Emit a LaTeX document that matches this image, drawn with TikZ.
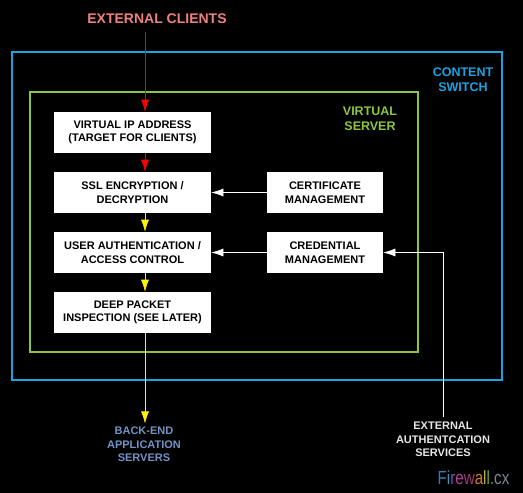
\documentclass[tikz,border=0pt]{standalone}
\usepackage{fontspec}
\setmainfont{Liberation Sans}
\usetikzlibrary{positioning,arrows.meta}
\definecolor{switchblue}{HTML}{1AA3E0}
\definecolor{servergreen}{HTML}{8CC63F}
\definecolor{clientred}{HTML}{F08080}
\definecolor{backblue}{HTML}{7393C6}
\definecolor{authgray}{HTML}{E6E6E6}

\begin{document}
\begin{tikzpicture}[x=1pt, y=-1pt,
    -{Latex[length=12pt,width=8pt]}, node distance = 60pt and 192.5pt, on grid,
    semithick,
    stage/.style ={rectangle, fill=white, text=black, minimum width=157pt,
    minimum height=41pt, inner sep=0pt, align=center,
    font=\fontsize{11}{13.5}\selectfont\bfseries},
    manager/.style={stage, minimum width=116pt},
    tag/.style={align=center, font=\fontsize{11}{13.5}\selectfont\bfseries}
    ]

\fill[black] (0,0) rectangle (523,493);
\draw[-, switchblue, line width=1.3pt] (12,52) rectangle (502,380);
\draw[-, servergreen, line width=1.3pt] (30,92) rectangle (418,352);

\node[tag, text=clientred, font=\fontsize{14}{16}\selectfont\bfseries] (clients) at (157,19) {EXTERNAL CLIENTS};
\node[tag, text=switchblue, font=\fontsize{12.5}{15}\selectfont\bfseries] (switch) at (463,80) {CONTENT\\SWITCH};
\node[tag, text=servergreen, font=\fontsize{12.5}{15}\selectfont\bfseries] (vserver) at (370,119) {VIRTUAL\\SERVER};

\node[stage] (vip) at (132.5,132.5) {VIRTUAL IP ADDRESS\\(TARGET FOR CLIENTS)};
\node[stage] (ssl) [below = of vip] {SSL ENCRYPTION /\\DECRYPTION};
\node[stage] (auth) [below = of ssl] {USER AUTHENTICATION /\\ACCESS CONTROL};
\node[stage] (dpi) [below = of auth] {DEEP PACKET\\INSPECTION (SEE LATER)};
\node[manager] (cert) [right = of ssl] {CERTIFICATE\\MANAGEMENT};
\node[manager] (cred) [right = of auth] {CREDENTIAL\\MANAGEMENT};

\node[tag, text=backblue] (backend) at (144,444.5) {BACK-END\\APPLICATION\\SERVERS};
\node[tag, text=authgray, inner sep=5pt] (extauth) at (443,439.5) {EXTERNAL\\AUTHENTCATION\\SERVICES};
\coordinate (entry) at (145,32);

\draw[red] (entry) -- (vip.north -| entry);
\draw[red] (vip.south -| entry) -- (ssl.north -| entry);
\draw[yellow] (ssl.south -| entry) -- (auth.north -| entry);
\draw[yellow] (auth.south -| entry) -- (dpi.north -| entry);
\draw[yellow] (dpi.south -| entry) -- (backend.north -| entry);
\draw[white] (cert.west) -- (ssl.east);
\draw[white] (cred.west) -- (auth.east);
\draw[white] (extauth.north) |- (cred.east);

\node (logo) at (473.5,478) {\fontsize{19}{19}\selectfont\scalebox{0.8}[1]{%
  \textcolor[HTML]{2F7FB0}{F}\textcolor[HTML]{3A9AB8}{i}\textcolor[HTML]{7B4FA8}{r}%
  \textcolor[HTML]{B0409A}{e}\textcolor[HTML]{A03A70}{w}\textcolor[HTML]{D07A30}{a}%
  \textcolor[HTML]{C8B030}{l}\textcolor[HTML]{6AA838}{l}\textcolor[HTML]{5A9A40}{.}%
  \textcolor[HTML]{7A8A98}{cx}}};
\end{tikzpicture}
\end{document}
